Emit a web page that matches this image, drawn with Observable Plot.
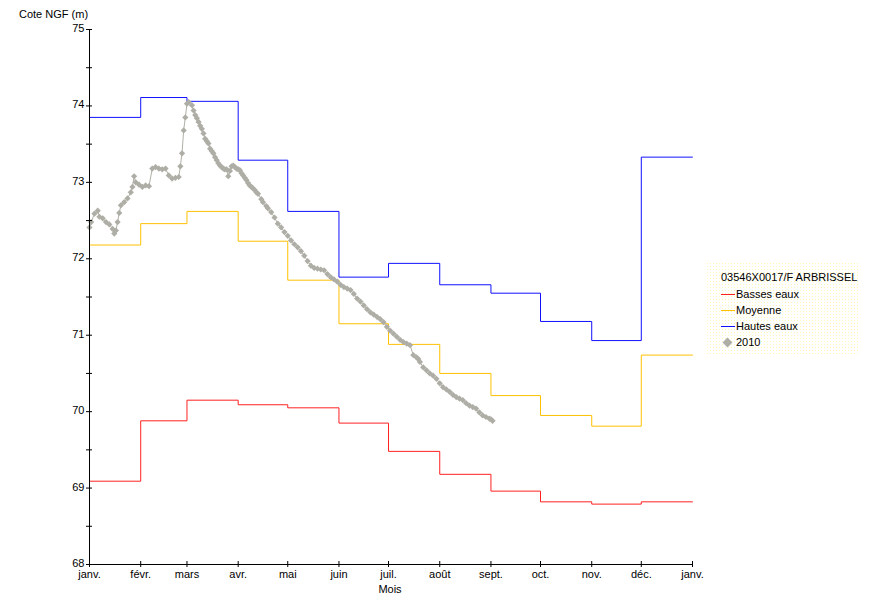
<!DOCTYPE html>
<html>
<head>
<meta charset="utf-8">
<script src="https://cdn.jsdelivr.net/npm/d3@7"></script>
<script src="https://cdn.jsdelivr.net/npm/@observablehq/plot@0.6"></script>
<style>
  html, body { margin: 0; padding: 0; background: #fff; }
  #wrap { position: relative; width: 872px; height: 597px; font-family: "Liberation Sans", Arial, sans-serif; font-size: 11px; color: #000; }
  #wrap svg { position: absolute; left: 0; top: 0; }
  .lab { position: absolute; white-space: nowrap; line-height: 13px; }
  #legendbg { position: absolute; left: 706px; top: 262px; width: 152px; height: 92px;
    background-image: radial-gradient(circle, rgba(255,240,120,0.55) 0.6px, transparent 0.9px);
    background-size: 3px 3px; }
  .sw { position: absolute; width: 14px; height: 0; border-top: 1px solid; }
</style>
</head>
<body>
<div id="wrap"></div>
<script>
// Month boundaries (step positions) and French month labels
const monthStarts = ["2010-01-01","2010-02-01","2010-03-01","2010-04-01","2010-05-01","2010-06-01",
  "2010-07-01","2010-08-01","2010-09-01","2010-10-01","2010-11-01","2010-12-01","2011-01-01"];
const monthLabels = ["janv.","févr.","mars","avr.","mai","juin","juil.","août","sept.","oct.","nov.","déc.","janv."];

// Monthly reference levels (m NGF), one value per month Jan..Dec
const basses  = [69.09, 69.88, 70.15, 70.09, 70.05, 69.85, 69.48, 69.18, 68.96, 68.82, 68.79, 68.82];
const moyenne = [72.18, 72.46, 72.62, 72.23, 71.72, 71.15, 70.88, 70.50, 70.21, 69.95, 69.81, 70.74];
const hautes  = [73.85, 74.11, 74.06, 73.29, 72.62, 71.76, 71.94, 71.66, 71.55, 71.18, 70.93, 73.33];

// 2010 observations: day of year (0 = 1 Jan) and level
const obsDays = [0,1,3,5,6,8,10,12,14,15,16,17,18,19,21,23,25,26,27,28,30,32,34,36,38,40,42,44,46,48,50,52,54,
  55,56,57,58,59,60,62,63,
  64,65,66,67,68,69,70,71,72,73,74,75,76,77,78,79,80,81,82,83,84,85,86,87,88,89,90,91,92,93,94,95,96,97,98,99,
  100,101,102,104,105,107,108,110,112,114,116,118,120,122,124,126,128,130,132,134,136,138,140,142,144,146,148,150,
  152,154,156,158,160,162,164,166,168,170,172,174,176,178,180,182,184,186,188,190,192,194,196,198,199,200,
  202,204,206,208,210,212,214,216,218,220,222,224,226,228,230,232,234,236,238,240,242,243,244];
const obsLevels = [72.41,72.48,72.59,72.63,72.55,72.53,72.48,72.45,72.39,72.33,72.37,72.48,72.60,72.70,72.74,72.79,
  72.87,72.94,73.08,73.00,72.97,72.94,72.96,72.95,73.18,73.20,73.18,73.17,73.18,73.09,73.05,73.06,73.07,
  73.21,73.38,73.68,73.85,74.03,74.05,74.01,73.94,
  73.88,73.84,73.79,73.74,73.70,73.64,73.57,73.54,73.51,73.44,73.41,73.38,73.33,73.29,73.25,73.22,73.20,73.18,
  73.17,73.17,73.08,73.15,73.21,73.22,73.20,73.18,73.17,73.16,73.12,73.09,73.06,73.03,72.99,72.96,72.94,72.92,
  72.90,72.87,72.85,72.78,72.74,72.69,72.66,72.61,72.54,72.46,72.41,72.35,72.30,72.24,72.19,72.15,72.10,72.04,
  71.97,71.91,71.88,71.87,71.86,71.85,71.80,71.76,71.73,71.70,71.66,71.63,71.61,71.59,71.54,71.48,71.44,71.39,
  71.34,71.30,71.27,71.24,71.21,71.17,71.11,71.06,71.02,70.98,70.94,70.91,70.89,70.87,70.74,70.71,70.69,70.65,
  70.58,70.54,70.50,70.47,70.43,70.37,70.32,70.29,70.26,70.22,70.19,70.17,70.15,70.11,70.08,70.06,70.04,69.99,
  69.95,69.93,69.91,69.90,69.88];

const yTicks = [68, 69, 70, 71, 72, 73, 74, 75];
const yMinor = [68.5, 69.5, 70.5, 71.5, 72.5, 73.5, 74.5];

const parse = s => new Date(s + "T00:00:00Z");
const months = monthStarts.map(parse);
const stepData = (vals) => months.map((d, i) => ({date: d, v: vals[Math.min(i, vals.length - 1)]}));
const obs = obsDays.map((d, i) => ({date: new Date(Date.UTC(2010, 0, 1 + d)), v: obsLevels[i]}));

const W = 872, H = 597, mL = 89, mR = 180, mT = 29, mB = 33;
const fw = W - mL - mR, fh = H - mT - mB;
const labelOf = new Map(months.map((d, i) => [+d, monthLabels[i]]));

const chart = Plot.plot({
  width: W, height: H,
  marginLeft: mL, marginRight: mR, marginTop: mT, marginBottom: mB,
  style: {fontFamily: "Liberation Sans, Arial, sans-serif", fontSize: "11px", color: "#000", background: "transparent"},
  x: {type: "utc", domain: [months[0], months[12]], label: null},
  y: {domain: [68, 75], label: null},
  marks: [
    Plot.line(stepData(basses), {x: "date", y: "v", curve: "step-after", stroke: "#ff2020", strokeWidth: 1}),
    Plot.line(stepData(moyenne), {x: "date", y: "v", curve: "step-after", stroke: "#ffc000", strokeWidth: 1}),
    Plot.line(stepData(hautes), {x: "date", y: "v", curve: "step-after", stroke: "#1010ff", strokeWidth: 1}),
    Plot.line(obs, {x: "date", y: "v", stroke: "#b0b0a8", strokeWidth: 1}),
    Plot.dot(obs, {x: "date", y: "v", symbol: "diamond2", r: 2.8, fill: "#aeaea6", stroke: "none"}),
    // axis lines
    Plot.ruleX([months[0]], {stroke: "#000"}),
    Plot.ruleY([68], {stroke: "#000"}),
    // crossing tick marks
    Plot.ruleY(yTicks.concat(yMinor), {y: d => d, insetRight: fw - 6, dx: -3, stroke: "#000"}),
    Plot.ruleX(months, {x: d => d, insetTop: fh - 6, dy: 3, stroke: "#000"}),
    Plot.axisY(yTicks, {tickSize: 0, tickPadding: 5, tickFormat: d => String(d), label: null, fill: "#000", dy: -1}),
    Plot.axisX(months, {tickSize: 0, tickPadding: 6, tickFormat: d => labelOf.get(+d), label: null, fill: "#000"})
  ]
});

const wrap = document.getElementById("wrap");
wrap.appendChild(chart);

function addLabel(text, left, top, extra) {
  const el = document.createElement("div");
  el.className = "lab";
  el.textContent = text;
  el.style.left = left + "px";
  el.style.top = top + "px";
  if (extra) Object.assign(el.style, extra);
  wrap.appendChild(el);
  return el;
}
addLabel("Cote NGF (m)", 19, 8);
addLabel("Mois", 390, 583, {transform: "translateX(-50%)"});

// legend
const bg = document.createElement("div"); bg.id = "legendbg"; wrap.appendChild(bg);
const legendItems = [
  {name: "Basses eaux", color: "#ff2020"},
  {name: "Moyenne", color: "#ffc000"},
  {name: "Hautes eaux", color: "#1010ff"},
  {name: "2010", color: null}
];
addLabel("03546X0017/F ARBRISSEL", 721, 271);
legendItems.forEach((it, i) => {
  const y = 295 + i * 16;
  if (it.color) {
    const sw = document.createElement("div");
    sw.className = "sw";
    sw.style.left = "721px"; sw.style.top = (y - 1) + "px";
    sw.style.borderTopColor = it.color;
    wrap.appendChild(sw);
  } else {
    const dm = document.createElement("div");
    dm.style.cssText = "position:absolute;left:724px;top:" + (y - 4) + "px;width:7px;height:7px;background:#aeaea6;transform:rotate(45deg);";
    wrap.appendChild(dm);
  }
  addLabel(it.name, 736, y - 7);
});
</script>
</body>
</html>
